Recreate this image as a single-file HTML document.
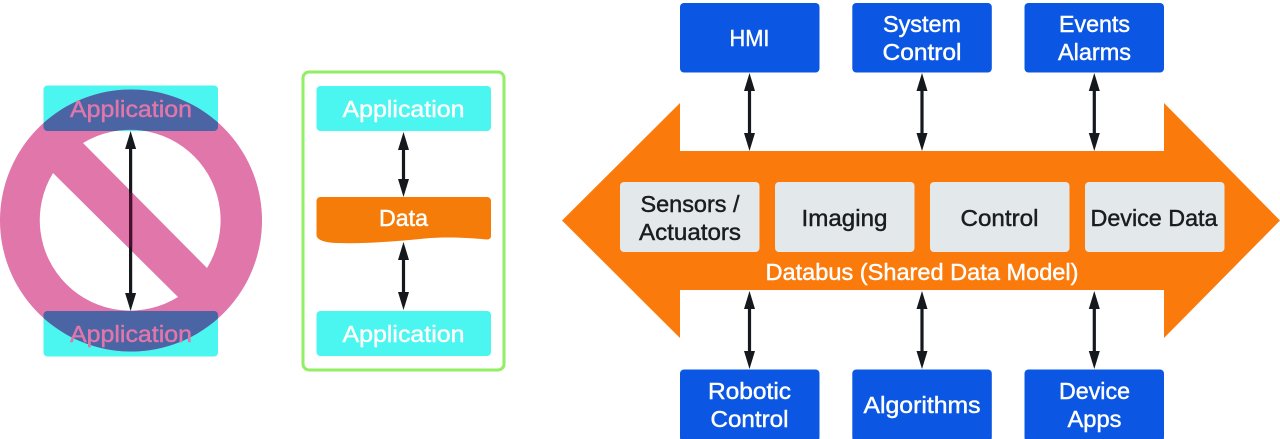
<!DOCTYPE html>
<html><head><meta charset="utf-8"><style>
html,body{margin:0;padding:0;background:#fff;width:1280px;height:439px;overflow:hidden}
svg{display:block;filter:blur(0.35px)}
text{font-family:"Liberation Sans",sans-serif;font-size:23px;text-anchor:middle;stroke-width:0.45px}
.w{fill:#fff;stroke:#fff}.k{fill:#1a1c20;stroke:#1a1c20}.p{fill:#e076aa;stroke:#e076aa}
</style></head><body>
<svg width="1280" height="439" viewBox="0 0 1280 439" xmlns="http://www.w3.org/2000/svg">
<defs>
<g id="up"><path d="M0 0L5.500 18H-5.500Z" fill="#15181d"/></g>
<g id="dn"><path d="M0 0L5.500 -18H-5.500Z" fill="#15181d"/></g>
<clipPath id="ringclip"><path clip-rule="evenodd" d="M131 89.500a131 131 0 1 0 .01 0ZM83 143L207 268A90.500 90.500 0 0 0 83 143ZM53 173A90.500 90.500 0 0 0 178 297Z"/></clipPath>
</defs>
<!-- left -->
<rect x="43.500" y="85.500" width="174.500" height="45.500" rx="4" fill="#4bf5f0"/>
<rect x="43.500" y="311" width="174.500" height="45.500" rx="4" fill="#4bf5f0"/>
<path fill="#e076aa" fill-rule="evenodd" d="M131 89.500a131 131 0 1 0 .01 0ZM83 143L207 268A90.500 90.500 0 0 0 83 143ZM53 173A90.500 90.500 0 0 0 178 297Z"/>
<g clip-path="url(#ringclip)"><rect x="43.500" y="85.500" width="174.500" height="45.500" rx="4" fill="#4a64a4"/><rect x="43.500" y="311" width="174.500" height="45.500" rx="4" fill="#4a64a4"/></g>
<text x="131" y="117" class="p" textLength="122" lengthAdjust="spacingAndGlyphs">Application</text>
<text x="131" y="342" class="p" textLength="122" lengthAdjust="spacingAndGlyphs">Application</text>
<rect x="129" y="140" width="3.200" height="162" fill="#14181d"/>
<rect x="129" y="193" width="3.200" height="54" fill="#4a0f30"/>
<use href="#up" x="130.600" y="131"/><use href="#dn" x="130.600" y="311"/>
<!-- middle -->
<rect x="303" y="72" width="201" height="298" rx="6" fill="#fff" stroke="#92ee62" stroke-width="3"/>
<rect x="316.500" y="86" width="174.500" height="45" rx="4" fill="#4bf5f0"/>
<rect x="316.500" y="311" width="174.500" height="45" rx="4" fill="#4bf5f0"/>
<path d="M320.500 197H487a4 4 0 0 1 4 4V236Q491 239.500 487 239.500C470 238 447 236.500 425 238.500C395 241.500 365 244 336 243C325 242.500 316.500 240 316.500 235V201a4 4 0 0 1 4-4Z" fill="#f57c08"/>
<text x="403.500" y="117" class="w" textLength="122" lengthAdjust="spacingAndGlyphs">Application</text>
<text x="403.500" y="226" class="w" textLength="49" lengthAdjust="spacingAndGlyphs">Data</text>
<text x="403.500" y="342" class="w" textLength="122" lengthAdjust="spacingAndGlyphs">Application</text>
<rect x="401.900" y="145" width="3.200" height="40" fill="#15181d"/>
<rect x="401.900" y="255" width="3.200" height="45" fill="#15181d"/>
<use href="#up" x="403.500" y="132"/><use href="#dn" x="403.500" y="197"/>
<use href="#up" x="403.500" y="242"/><use href="#dn" x="403.500" y="310"/>
<!-- bus -->
<path d="M562 220.500L680 103V151H1164V103L1280 220.500L1164 338V290H680V338Z" fill="#fb7a0c"/>
<g fill="#e3e8ea">
<rect x="620" y="182" width="139.500" height="70" rx="4"/>
<rect x="775" y="182" width="139.500" height="70" rx="4"/>
<rect x="930" y="182" width="139.500" height="70" rx="4"/>
<rect x="1085" y="182" width="139.500" height="70" rx="4"/>
</g>
<text x="690" y="212" class="k" textLength="99" lengthAdjust="spacingAndGlyphs">Sensors /</text>
<text x="690" y="240" class="k" textLength="102" lengthAdjust="spacingAndGlyphs">Actuators</text>
<text x="844.500" y="226" class="k" textLength="86" lengthAdjust="spacingAndGlyphs">Imaging</text>
<text x="999.500" y="226" class="k" textLength="78" lengthAdjust="spacingAndGlyphs">Control</text>
<text x="1154" y="226" class="k" textLength="127" lengthAdjust="spacingAndGlyphs">Device Data</text>
<text x="922" y="280" class="w" textLength="313" lengthAdjust="spacingAndGlyphs">Databus (Shared Data Model)</text>
<!-- blue -->
<g fill="#0b57e3">
<rect x="680" y="3" width="139.500" height="69.500" rx="4"/>
<rect x="852.300" y="3" width="139.500" height="69.500" rx="4"/>
<rect x="1024.500" y="3" width="139.500" height="69.500" rx="4"/>
<rect x="680" y="369.500" width="139.500" height="72" rx="4"/>
<rect x="852.300" y="369.500" width="139.500" height="72" rx="4"/>
<rect x="1024.500" y="369.500" width="139.500" height="72" rx="4"/>
</g>
<text x="749.500" y="46" class="w" textLength="40" lengthAdjust="spacingAndGlyphs">HMI</text>
<text x="922" y="32" class="w" textLength="78" lengthAdjust="spacingAndGlyphs">System</text>
<text x="922" y="60" class="w" textLength="79" lengthAdjust="spacingAndGlyphs">Control</text>
<text x="1094.500" y="32" class="w" textLength="71" lengthAdjust="spacingAndGlyphs">Events</text>
<text x="1094.500" y="60" class="w" textLength="73" lengthAdjust="spacingAndGlyphs">Alarms</text>
<text x="749.500" y="399" class="w" textLength="83" lengthAdjust="spacingAndGlyphs">Robotic</text>
<text x="749.500" y="427" class="w" textLength="78" lengthAdjust="spacingAndGlyphs">Control</text>
<text x="922" y="413" class="w" textLength="117" lengthAdjust="spacingAndGlyphs">Algorithms</text>
<text x="1094.500" y="399" class="w" textLength="71" lengthAdjust="spacingAndGlyphs">Device</text>
<text x="1094.500" y="427" class="w" textLength="54" lengthAdjust="spacingAndGlyphs">Apps</text>
<!-- arrows -->
<g fill="#15181d">
<rect x="747.900" y="85" width="3.200" height="55"/><rect x="920.400" y="85" width="3.200" height="55"/><rect x="1092.700" y="85" width="3.200" height="55"/>
<rect x="747.900" y="305" width="3.200" height="52"/><rect x="920.400" y="305" width="3.200" height="52"/><rect x="1092.700" y="305" width="3.200" height="52"/>
</g>
<use href="#up" x="749.500" y="73"/><use href="#dn" x="749.500" y="151"/>
<use href="#up" x="922" y="73"/><use href="#dn" x="922" y="151"/>
<use href="#up" x="1094.300" y="73"/><use href="#dn" x="1094.300" y="151"/>
<use href="#up" x="749.500" y="291"/><use href="#dn" x="749.500" y="369"/>
<use href="#up" x="922" y="291"/><use href="#dn" x="922" y="369"/>
<use href="#up" x="1094.300" y="291"/><use href="#dn" x="1094.300" y="369"/>
</svg>
</body></html>
